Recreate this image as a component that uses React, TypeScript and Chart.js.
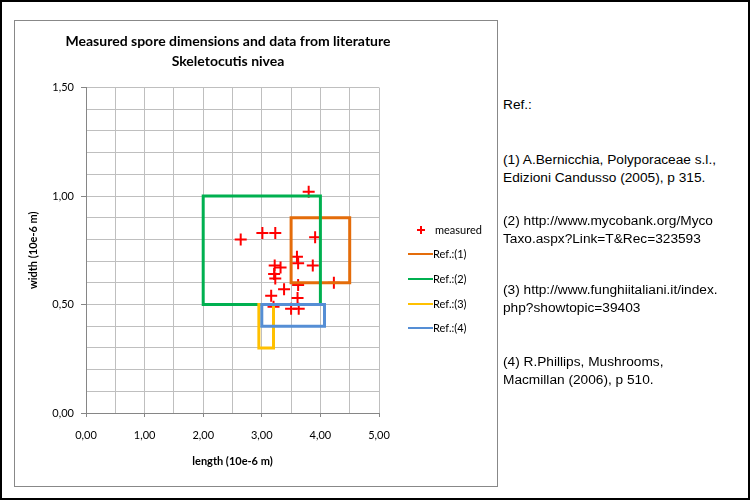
import React, { useEffect, useRef } from "react";
import { Chart, registerables } from "chart.js";

Chart.register(...registerables);

// ---- data ----
const titleLines = ["Measured spore dimensions and data from literature", "Skeletocutis nivea"];
const xAxisTitle = "length (10e-6 m)";
const yAxisTitle = "width (10e-6 m)";

const measuredLength = [3.80, 2.64, 3.01, 3.23, 3.91, 3.60, 3.62, 3.87, 3.22, 3.32, 3.21, 3.23, 3.38, 3.62, 4.23, 3.16, 3.61, 3.20, 3.50, 3.63];
const measuredWidth = [1.02, 0.80, 0.83, 0.83, 0.81, 0.72, 0.69, 0.68, 0.68, 0.67, 0.64, 0.62, 0.57, 0.59, 0.60, 0.54, 0.53, 0.49, 0.48, 0.48];

const refNames = ["Ref.:(1)", "Ref.:(2)", "Ref.:(3)", "Ref.:(4)"];
const refLengthMin = [3.5, 2.0, 2.95, 3.0];
const refLengthMax = [4.5, 4.0, 3.2, 4.07];
const refWidthMin = [0.6, 0.5, 0.3, 0.4];
const refWidthMax = [0.9, 1.0, 0.5, 0.5];
const refColors = ["#E46C0A", "#00B050", "#FFC000", "#558ED5"];

const xTickLabels = ["0,00", "1,00", "2,00", "3,00", "4,00", "5,00"];
const yTickLabels = ["0,00", "0,50", "1,00", "1,50"];

const refTexts = [
  { y: 105, lines: ["Ref.:"] },
  { y: 160, lines: ["(1) A.Bernicchia, Polyporaceae s.l.,", "Edizioni Candusso (2005), p 315."] },
  { y: 221, lines: ["(2) http://www.mycobank.org/Myco", "Taxo.aspx?Link=T&Rec=323593"] },
  { y: 290, lines: ["(3) http://www.funghiitaliani.it/index.", "php?showtopic=39403"] },
  { y: 362, lines: ["(4) R.Phillips, Mushrooms,", "Macmillan (2006), p 510."] },
];

const CHART_FONT = "Lato, 'DejaVu Sans', sans-serif";
const isMult = (v: number, step: number) => Math.abs(v / step - Math.round(v / step)) < 1e-6;

export default function App() {
  const canvasRef = useRef<HTMLCanvasElement>(null);

  useEffect(() => {
    document.body.style.margin = "0";
    const measured = measuredLength.map((x, i) => ({ x, y: measuredWidth[i] }));
    const rectDatasets = refNames.map((name, i) => ({
      label: name,
      data: [
        { x: refLengthMin[i], y: refWidthMin[i] },
        { x: refLengthMax[i], y: refWidthMin[i] },
        { x: refLengthMax[i], y: refWidthMax[i] },
        { x: refLengthMin[i], y: refWidthMax[i] },
        { x: refLengthMin[i], y: refWidthMin[i] },
        { x: refLengthMax[i], y: refWidthMin[i] },
      ],
      showLine: true,
      borderColor: refColors[i],
      backgroundColor: refColors[i],
      borderWidth: 3,
      borderJoinStyle: "miter" as const,
      pointRadius: 0,
      fill: false,
      tension: 0,
      order: 4 - i,
    }));

    const chart = new Chart(canvasRef.current!, {
      type: "scatter",
      data: {
        datasets: [
          {
            label: "measured",
            data: measured,
            pointStyle: "cross",
            pointRadius: 6,
            borderWidth: 2,
            borderColor: "#FF0000",
            backgroundColor: "#FF0000",
            showLine: false,
            order: 10,
          } as any,
          ...rectDatasets,
        ],
      },
      options: {
        animation: false,
        responsive: false,
        layout: { padding: 0 },
        plugins: {
          legend: { display: false },
          tooltip: { enabled: false },
          title: {
            display: true,
            text: titleLines,
            color: "#000",
            font: { family: CHART_FONT, size: 14, weight: "bold", lineHeight: 1.393 },
            padding: { top: 11, bottom: 16.5 },
          },
        },
        scales: {
          x: {
            type: "linear",
            min: 0,
            max: 5,
            afterFit: (s: any) => { s.height = 73; },
            ticks: {
              stepSize: 0.5,
              autoSkip: false,
              maxRotation: 0,
              padding: 12,
              color: "#000",
              font: { family: CHART_FONT, size: 11 },
              callback: (v: any) => (isMult(Number(v), 1) ? xTickLabels[Math.round(Number(v))] : ""),
            },
            grid: {
              color: "#BFBFBF",
              lineWidth: 1,
              tickLength: 4,
              tickColor: (ctx: any) => (ctx.tick && isMult(ctx.tick.value, 1) ? "#868686" : "rgba(0,0,0,0)"),
            },
            border: { color: "#868686", width: 1 },
            title: {
              display: true,
              text: xAxisTitle,
              color: "#000",
              font: { family: CHART_FONT, size: 11, weight: "bold", lineHeight: 1.2 },
              padding: { top: 0, bottom: 18.4 },
            },
          },
          y: {
            type: "linear",
            min: 0,
            max: 1.5,
            afterFit: (s: any) => { s.width = 71; },
            ticks: {
              stepSize: 0.1,
              autoSkip: false,
              padding: 7,
              color: "#000",
              font: { family: CHART_FONT, size: 11 },
              callback: (v: any) => (isMult(Number(v), 0.5) ? yTickLabels[Math.round(Number(v) * 2)] : ""),
            },
            grid: {
              color: "#BFBFBF",
              lineWidth: 1,
              tickLength: 5,
              tickColor: (ctx: any) => (ctx.tick && isMult(ctx.tick.value, 0.5) ? "#868686" : "rgba(0,0,0,0)"),
            },
            border: { color: "#868686", width: 1 },
            title: {
              display: true,
              text: yAxisTitle,
              color: "#000",
              font: { family: CHART_FONT, size: 11, weight: "bold", lineHeight: 1.2 },
              padding: { top: 11.4, bottom: 0 },
            },
          },
          // invisible spacer on the right (room for the legend)
          yRight: {
            type: "linear",
            position: "right",
            min: 0,
            max: 1.5,
            afterFit: (s: any) => { s.width = 62; },
            ticks: { display: false },
            grid: { display: false, drawTicks: false },
            border: { display: false },
            title: { display: false },
          },
        },
      },
    });
    return () => chart.destroy();
  }, []);

  const legendRows = [
    { label: "measured", y: 230 },
    ...refNames.map((n, i) => ({ label: n, y: [254, 279, 304, 328][i], color: refColors[i] })),
  ];

  return (
    <div style={{ position: "absolute", left: 0, top: 0, width: 750, height: 500, background: "#fff", overflow: "hidden" }}>
      <div style={{ position: "absolute", left: 14, top: 20, width: 484, height: 467, border: "1px solid #888", boxSizing: "border-box" }} />
      <canvas ref={canvasRef} width={426} height={465} style={{ position: "absolute", left: 15, top: 21, width: 426, height: 465 }} />
      {legendRows.map((r: any, i) => (
        <div key={i} style={{ position: "absolute", left: 405, top: r.y - 8, height: 16, width: 90 }}>
          {r.color ? (
            <div style={{ position: "absolute", left: 3, top: 7, width: 25, height: 2, background: r.color }} />
          ) : (
            <>
              <div style={{ position: "absolute", left: 12, top: 7, width: 8, height: 2, background: "#FF0000" }} />
              <div style={{ position: "absolute", left: 15, top: 4, width: 2, height: 8, background: "#FF0000" }} />
            </>
          )}
          <div style={{ position: "absolute", left: r.color ? 28 : 30, top: 0, lineHeight: "16px", fontFamily: CHART_FONT, fontSize: 11, color: "#000", whiteSpace: "nowrap" }}>
            {r.label}
          </div>
        </div>
      ))}
      {refTexts.map((b, i) => (
        <div key={i} style={{ position: "absolute", left: 503, top: b.y - 9.5, fontFamily: "'Liberation Sans', Arial, sans-serif", fontSize: 13.7, lineHeight: "18.5px", color: "#000", whiteSpace: "nowrap" }}>
          {b.lines.map((l, j) => (
            <div key={j}>{l}</div>
          ))}
        </div>
      ))}
      <div style={{ position: "absolute", left: 0, top: 0, width: 750, height: 500, border: "2px solid #000", boxSizing: "border-box", pointerEvents: "none" }} />
    </div>
  );
}
